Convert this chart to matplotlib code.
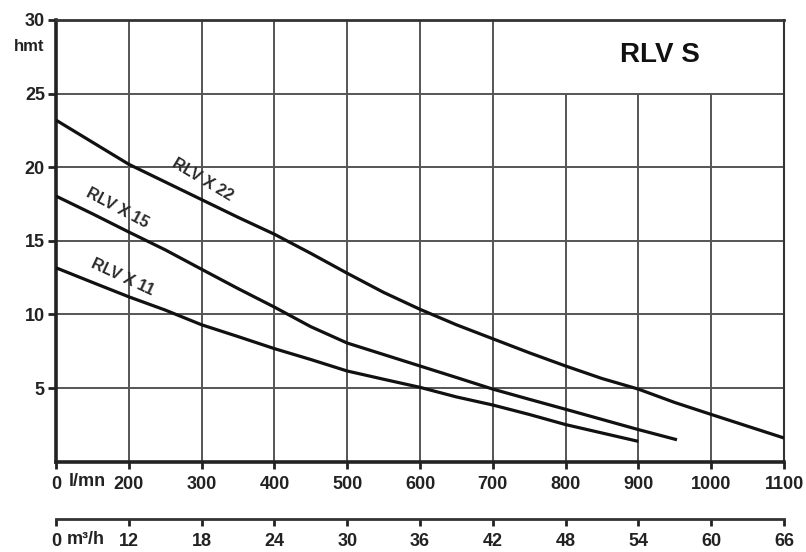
#Pump curves RLV S : head (hmt) against flow (l/mn and m3/h)
import numpy as np
from matplotlib import pyplot as plt

plt.rcParams['font.family'] = ['Liberation Sans', 'DejaVu Sans']

#Axis ticks as printed on the sheet
flow_ticks = [0, 200, 300, 400, 500, 600, 700, 800, 900, 1000, 1100]
flow_labels = ['0', '200', '300', '400', '500', '600', '700', '800', '900', '1000', '1100']
m3h_ticks = [0, 12, 18, 24, 30, 36, 42, 48, 54, 60, 66]
head_ticks = [5, 10, 15, 20, 25, 30]

#Curves (flow in l/mn, head in m)
flow_x22 = [0, 100, 200, 250, 300, 350, 400, 450, 500, 550, 600, 650, 700,
            750, 800, 850, 900, 950, 1000, 1050, 1100]
head_x22 = [23.2, 21.7, 20.2, 19.0, 17.8, 16.6, 15.45, 14.15, 12.8, 11.5, 10.35, 9.3, 8.35,
            7.4, 6.5, 5.65, 4.93, 4.02, 3.21, 2.41, 1.61]
flow_x15 = [0, 100, 200, 250, 300, 350, 400, 450, 500, 550, 600, 650, 700,
            750, 800, 850, 900, 953]
head_x15 = [18.04, 16.84, 15.6, 14.39, 13.07, 11.76, 10.5, 9.17, 8.06, 7.28, 6.5, 5.72, 4.93,
            4.24, 3.56, 2.87, 2.18, 1.49]
flow_x11 = [0, 100, 200, 250, 300, 350, 400, 450, 500, 550, 600, 650, 700,
            750, 800, 850, 900]
head_x11 = [13.17, 12.18, 11.2, 10.3, 9.3, 8.5, 7.68, 6.94, 6.16, 5.6, 5.05, 4.4, 3.85,
            3.21, 2.52, 1.95, 1.38]

#The first column of the sheet runs 0..200, the others 100 each
def flow_fwd(x):
    x = np.asarray(x, dtype=float)
    return np.where(x < 200, 100 + x / 2, x)

def flow_inv(p):
    p = np.asarray(p, dtype=float)
    return np.where(p < 200, (p - 100) * 2, p)

def m3h_fwd(x):
    x = np.asarray(x, dtype=float)
    return np.where(x < 12, 6 + x / 2, x)

def m3h_inv(p):
    p = np.asarray(p, dtype=float)
    return np.where(p < 12, (p - 6) * 2, p)

dark = '#222222'
gridc = '#555555'

fig = plt.figure(figsize=(8.06, 5.52), dpi=100)
ax = fig.add_axes([56 / 806, 90.3 / 552, 728 / 806, 441.7 / 552])
ax.set_xscale('function', functions=(flow_fwd, flow_inv))
ax.set_xlim(0, 1100)
ax.set_ylim(0, 30)

#grid, the top band right of 700 is left open for the title
grid_top = [30 if f <= 700 else 25 for f in flow_ticks[1:-1]]
ax.vlines(flow_ticks[1:-1], 0, grid_top, color=gridc, lw=1.4, zorder=1)
ax.hlines(head_ticks[:-1], 0, 1100, color=gridc, lw=1.4, zorder=1)

for fx, hy in [(flow_x22, head_x22), (flow_x15, head_x15), (flow_x11, head_x11)]:
    ax.plot(fx, hy, color='#111111', lw=2.3, solid_capstyle='butt', zorder=3)

lab = dict(fontsize=11.5, fontweight='bold', color='#2a2a2a', ha='center', va='center',
           rotation_mode='anchor')
ax.text(302, 19.15, 'RLV X 22', rotation=-31, **lab)
ax.text(168, 17.25, 'RLV X 15', rotation=-28, **lab)
ax.text(184, 12.5, 'RLV X 11', rotation=-25, **lab)

ax.text(930, 27.6, 'RLV S', fontsize=20, fontweight='bold', color='#111111',
        ha='center', va='center')

for s in ['left', 'bottom']:
    ax.spines[s].set_linewidth(2.6)
    ax.spines[s].set_color(dark)
ax.spines['top'].set_linewidth(2.0)
ax.spines['top'].set_color('#333333')
ax.spines['right'].set_linewidth(1.5)
ax.spines['right'].set_color('#333333')

ax.set_yticks(head_ticks)
ax.set_yticklabels([str(h) for h in head_ticks])
ax.set_xticks(flow_ticks)
ax.set_xticklabels(flow_labels)
ax.xaxis.set_minor_locator(plt.NullLocator())
ax.tick_params(axis='y', length=6, width=2, pad=2, labelsize=13, colors=dark)
ax.tick_params(axis='x', length=5, width=2, pad=5, labelsize=13, colors=dark)
for t in ax.get_xticklabels() + ax.get_yticklabels():
    t.set_fontweight('bold')

ax.annotate('l/mn', xy=(0, 0), xycoords='data', xytext=(9.5, -14.5),
            textcoords='offset points', fontsize=13, fontweight='bold',
            color=dark, ha='left', va='center', annotation_clip=False)
ax.annotate('hmt', xy=(0, 28.2), xycoords='data', xytext=(-19, 0),
            textcoords='offset points', fontsize=12, fontweight='bold',
            color=dark, ha='center', va='center', annotation_clip=False)

#second flow scale in m3/h
ax2 = fig.add_axes([56 / 806, 33 / 552, 728 / 806, 0.0001])
ax2.set_xscale('function', functions=(m3h_fwd, m3h_inv))
ax2.set_xlim(0, 66)
ax2.patch.set_visible(False)
for s in ['left', 'right', 'top']:
    ax2.spines[s].set_visible(False)
ax2.spines['bottom'].set_linewidth(2.0)
ax2.spines['bottom'].set_color('#333333')
ax2.set_yticks([])
ax2.set_xticks(m3h_ticks)
ax2.set_xticklabels([str(v) for v in m3h_ticks])
ax2.xaxis.set_minor_locator(plt.NullLocator())
ax2.tick_params(axis='x', length=5, width=2, pad=5, labelsize=13, colors=dark)
for t in ax2.get_xticklabels():
    t.set_fontweight('bold')
ax2.annotate('m³/h', xy=(0, 0), xycoords='data', xytext=(8, -15),
             textcoords='offset points', fontsize=13, fontweight='bold',
             color=dark, ha='left', va='center', annotation_clip=False)

fig.savefig('out.png', dpi=100)
